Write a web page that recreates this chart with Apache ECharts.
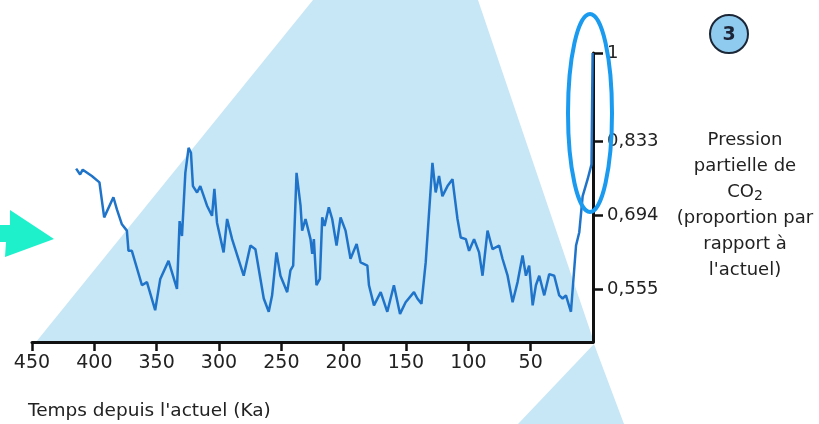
<!DOCTYPE html>
<html>
<head>
<meta charset="utf-8">
<script src="https://cdn.jsdelivr.net/npm/echarts@6/dist/echarts.min.js"></script>
<style>
  html, body { margin: 0; padding: 0; background: #fff; }
  #chart-1 { width: 819px; height: 424px; }
</style>
</head>
<body>
<div id="chart-1"></div>
<script>
// time before present (Ka) and CO2 partial pressure relative to today
var ages = [414.6, 411.4, 409.3, 402.0, 395.9, 392.1, 384.7, 381.9, 377.9, 373.9,
  372.6, 369.9, 361.8, 357.8, 351.2, 347.1, 340.5, 333.7, 331.6, 329.7,
  327.0, 324.4, 322.5, 320.9, 317.6, 315.0, 309.6, 305.6, 303.7, 301.6,
  296.3, 293.5, 289.5, 280.2, 274.8, 270.8, 264.1, 260.1, 257.4, 253.9,
  250.7, 245.3, 242.7, 240.5, 237.8, 234.6, 233.3, 230.6, 226.6, 225.2,
  223.9, 221.8, 219.1, 217.2, 215.3, 211.9, 209.2, 205.7, 202.5, 198.5,
  194.5, 189.6, 186.4, 181.0, 179.7, 175.7, 170.3, 165.0, 159.7, 154.8,
  150.3, 143.6, 140.9, 137.6, 134.2, 128.8, 126.2, 123.5, 120.8, 116.7,
  112.7, 111.4, 108.7, 106.1, 102.0, 99.4, 95.4, 91.4, 88.6, 84.6,
  80.6, 75.3, 72.6, 68.5, 64.5, 60.5, 56.5, 53.8, 51.2, 48.4,
  45.8, 43.1, 39.1, 35.1, 31.1, 27.1, 24.4, 21.7, 17.7, 13.6,
  11.0, 8.3, 4.3, 1.2, 0.3];
var co2 = [0.782, 0.771, 0.780, 0.768, 0.756, 0.690, 0.728, 0.705, 0.677, 0.665,
  0.627, 0.627, 0.562, 0.568, 0.515, 0.574, 0.608, 0.555, 0.683, 0.655,
  0.774, 0.821, 0.812, 0.749, 0.737, 0.749, 0.712, 0.693, 0.744, 0.680,
  0.624, 0.687, 0.649, 0.580, 0.637, 0.630, 0.537, 0.512, 0.543, 0.624,
  0.580, 0.549, 0.590, 0.599, 0.774, 0.712, 0.665, 0.687, 0.649, 0.621,
  0.649, 0.562, 0.574, 0.690, 0.674, 0.709, 0.687, 0.637, 0.690, 0.665,
  0.612, 0.640, 0.605, 0.599, 0.562, 0.524, 0.549, 0.512, 0.562, 0.508,
  0.530, 0.549, 0.537, 0.527, 0.605, 0.793, 0.737, 0.768, 0.730, 0.749,
  0.762, 0.737, 0.687, 0.652, 0.649, 0.627, 0.649, 0.624, 0.580, 0.665,
  0.630, 0.637, 0.612, 0.580, 0.530, 0.568, 0.618, 0.580, 0.599, 0.524,
  0.562, 0.580, 0.543, 0.583, 0.580, 0.543, 0.537, 0.543, 0.512, 0.637,
  0.662, 0.730, 0.762, 0.790, 1.0];
var xTicks = [50, 100, 150, 200, 250, 300, 350, 400, 450];
var yTicks = [0.555, 0.694, 0.833, 1];

var chart1 = echarts.init(document.getElementById('chart-1'));

var seriesData = [];
for (var i = 0; i < ages.length; i++) {
    seriesData.push([ages[i], co2[i]]);
}

var txt = '#222';
var option = {
    backgroundColor: '#fff',
    animation: false,
    textStyle: { fontFamily: 'DejaVu Sans' },
    grid: { left: 32, right: 226, top: 53, bottom: 82 },
    xAxis: {
        type: 'value',
        inverse: true,
        min: 0,
        max: 450,
        splitLine: { show: false },
        axisLine: { lineStyle: { color: '#111', width: 3 } },
        axisTick: { customValues: xTicks, length: 9, lineStyle: { color: '#111', width: 2.5 } },
        axisLabel: { customValues: xTicks, color: txt, fontSize: 19, margin: 12 }
    },
    yAxis: {
        type: 'value',
        position: 'right',
        min: 0.455,
        max: 1,
        splitLine: { show: false },
        axisLine: { show: true, lineStyle: { color: '#111', width: 3 } },
        axisTick: { show: true, customValues: yTicks, length: 10, lineStyle: { color: '#111', width: 2.5 } },
        axisLabel: {
            customValues: yTicks,
            color: txt,
            fontSize: 18,
            margin: 14,
            formatter: function (v) {
                return v === 1 ? '1' : v.toFixed(3).replace('.', ',');
            }
        }
    },
    graphic: [
        // light blue background shapes
        { type: 'polygon', z: -10, shape: { points: [[313, 0], [478, 0], [594, 342], [36, 342]] },
          style: { fill: '#c7e6f6' } },
        { type: 'polygon', z: -10, shape: { points: [[594, 344], [518, 424], [624, 424]] },
          style: { fill: '#c7e6f6' } },
        // teal arrow
        { type: 'polygon', shape: { points: [[0, 225], [10, 225], [10, 210], [54, 239], [5, 257], [6, 242], [0, 242]] },
          style: { fill: '#1ff0cc' } },
        // highlight ellipse
        { type: 'ellipse', z: 100, shape: { cx: 590, cy: 113, rx: 22, ry: 99 },
          style: { fill: 'none', stroke: '#1a9bf0', lineWidth: 4 } },
        // numbered badge
        { type: 'circle', shape: { cx: 729, cy: 34, r: 19 },
          style: { fill: '#8fcbef', stroke: '#1b2636', lineWidth: 2 } },
        { type: 'text', x: 729, y: 35,
          style: { text: '3', fill: '#1c2538', font: 'bold 19px "DejaVu Sans"', align: 'center', verticalAlign: 'middle' } },
        // axis names
        { type: 'text', left: 28, top: 402,
          style: { text: "Temps depuis l'actuel (Ka)", fill: txt, font: '18.5px "DejaVu Sans"' } },
        { type: 'text', x: 745, y: 127,
          style: {
              text: 'Pression\npartielle de\n{co|CO}{sub|2}\n(proportion par\nrapport à\nl\'actuel)',
              fill: txt, font: '18px "DejaVu Sans"', align: 'center', lineHeight: 26,
              rich: {
                  co: { fontSize: 18, fill: txt, fontFamily: 'DejaVu Sans', lineHeight: 26 },
                  sub: { fontSize: 14, fill: txt, fontFamily: 'DejaVu Sans', padding: [8, 0, 0, 0], lineHeight: 26 }
              }
          } }
    ],
    series: [{
        type: 'line',
        data: seriesData,
        showSymbol: false,
        lineStyle: { color: '#1f74c9', width: 2.5 },
        z: 5
    }]
};

chart1.setOption(option);
</script>
</body>
</html>
